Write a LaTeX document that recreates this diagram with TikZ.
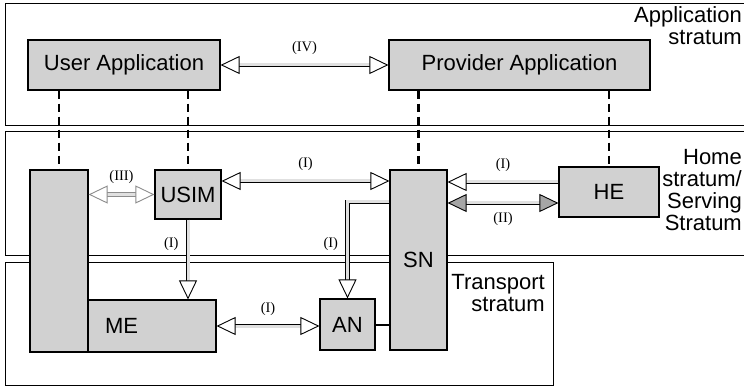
\documentclass[tikz,border=0pt]{standalone}
\usepackage{fontspec}
\setmainfont{Liberation Sans}
\newfontfamily\lblfont{Liberation Serif}
\usetikzlibrary{arrows.meta}
\tikzset{
  blk/.style    ={draw, line width=1.2pt, fill=black!18, inner sep=0pt,
                  font=\fontsize{22}{24}\selectfont},
  strat/.style  ={draw, line width=1pt},
  stlbl/.style  ={align=right, inner sep=0pt,
                  font=\fontsize{22}{22}\selectfont},
  rom/.style    ={font=\lblfont\fontsize{14.5}{16}\selectfont, inner sep=1pt},
  dsh/.style    ={line width=2.6pt, dash pattern=on 8pt off 5pt},
  fat/.style    ={double=black!12, double distance=3pt, line width=0.9pt},
  pale/.style   ={draw=black!45},
  hd/.tip       ={Triangle[open, length=19pt, width=18pt, fill=white]},
  ghd/.tip      ={Triangle[length=19pt, width=18pt, fill=black!35]},
  link/.style   ={line width=2pt},
}

\begin{document}
\begin{tikzpicture}[x=1pt, y=-1pt]
  \useasboundingbox (0,0) rectangle (744,387);
  % strata
  \draw[strat] (744,4) -| (5,126) -- (744,126);
  \draw[strat] (744,132) -| (5,256) -- (744,256);
  \draw[strat] (5,263) rectangle (553,385);
  \node[stlbl, anchor=north east] (appst) at (742,6) {Application\\stratum};
  \node[stlbl, anchor=north east] (homest) at (742,149) {Home\\stratum/\\Serving\\Stratum};
  \node[stlbl, anchor=north east] (trst) at (545,274) {Transport\\stratum};

  % boxes
  \node[blk, minimum width=192pt, minimum height=50pt] (uapp) at (124,65) {User Application};
  \node[blk, minimum width=261pt, minimum height=50pt] (papp) at (519.5,65) {Provider Application};
  \node[blk, minimum width=58pt, minimum height=182pt] (mt) at (59,261) {};
  \node[blk, minimum width=66pt, minimum height=49pt] (usim) at (188,194.5) {USIM};
  \node[blk, minimum width=57pt, minimum height=180pt] (sn) at (418.5,260) {SN};
  \node[blk, minimum width=100pt, minimum height=50pt] (he) at (609,192) {HE};
  \node[blk, minimum height=52pt, text width=94pt, inner xsep=17pt,
        align=left] (me) at (152,326) {ME};
  \node[blk, minimum width=55pt, minimum height=51pt] (an) at (347.5,324.5) {AN};

  % dashed ties
  \draw[dsh] (uapp.south -| mt.north) -- (mt.north);
  \draw[dsh] (uapp.south -| usim.north) -- (usim.north);
  \draw[dsh] (papp.south -| sn.north) -- (sn.north);
  \draw[dsh] (papp.south -| he.north) -- (he.north);

  % interfaces
  \draw[fat, {hd}-{hd}] (uapp.east) -- (papp.west)
    node[rom, midway, above=9pt] (iv) {(IV)};
  \draw[fat, pale, {hd}-{hd}] (usim.west -| mt.east) -- (usim.west)
    node[rom, midway, above=9pt] (iii) {(III)};
  \draw[fat, {hd}-{hd}] ([yshift=13.5pt]usim.east) -- ([yshift=13.5pt]usim.east -| sn.west)
    node[rom, midway, above=9pt] (i1) {(I)};
  \draw[fat, -{hd}] ([yshift=10pt]he.west) -- ([yshift=10pt]he.west -| sn.east)
    node[rom, midway, above=9pt] (i2) {(I)};
  \draw[fat, {ghd}-{ghd}] ([yshift=-11pt]he.west -| sn.east) -- ([yshift=-11pt]he.west)
    node[rom, midway, below=8pt] (ii) {(II)};
  \draw[fat, -{hd}] (usim.south) -- (usim.south |- me.north)
    node[rom, pos=0.3, left=8pt] (i3) {(I)};
  \draw[fat, -{hd}] ([yshift=58pt]sn.west) -| (an.north)
    node[rom, pos=0.72, left=8pt] (i4) {(I)};
  \draw[fat, {hd}-{hd}] (me.east) -- (me.east -| an.west)
    node[rom, midway, above=9pt] (i5) {(I)};
  \draw[link] (an.east) -- (an.east -| sn.west);
\end{tikzpicture}
\end{document}
